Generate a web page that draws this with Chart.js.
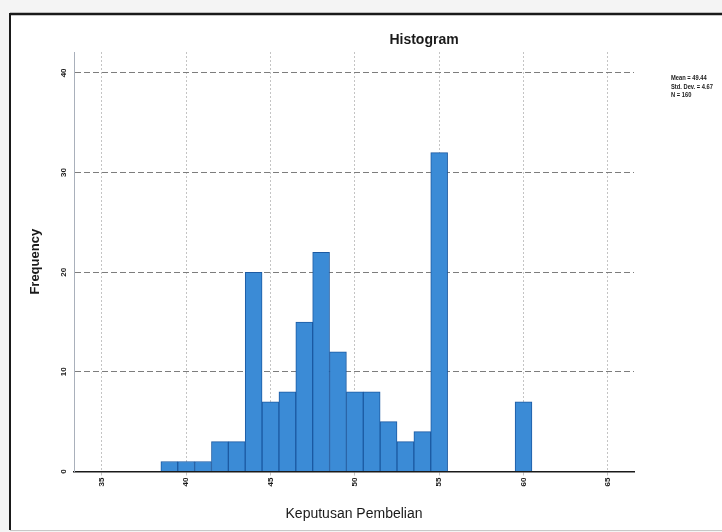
<!DOCTYPE html>
<html><head><meta charset="utf-8">
<script src="https://cdn.jsdelivr.net/npm/chart.js@4/dist/chart.umd.min.js"></script>
<style>html,body{margin:0;padding:0;background:#f4f4f4;overflow:hidden}#c{display:block}</style>
</head><body>
<canvas id="c" width="722" height="532"></canvas>
<script>
// ---- data ----
const binCenters  = [39,40,41,42,43,44,45,46,47,48,49,50,51,52,53,54,55,56,57,58,59,60];
const frequencies = [ 1, 1, 1, 3, 3,20, 7, 8,15,22,12, 8, 8, 5, 3, 4,32, 0, 0, 0, 0, 7];
const xTicks = [35,40,45,50,55,60,65];
const yTicks = [0,10,20,30,40];
const chartTitle = 'Histogram';
const xTitle = 'Keputusan Pembelian';
const yTitle = 'Frequency';
const statsLines = ['Mean = 49.44','Std. Dev. = 4.67','N = 160'];

const FONT = '"Liberation Sans", Arial, sans-serif';

const framePlugin = {
  id: 'frame',
  beforeDraw(chart) {
    const ctx = chart.ctx;
    ctx.save();
    ctx.fillStyle = '#f4f4f4';
    ctx.fillRect(0, 0, chart.width, chart.height);
    ctx.fillStyle = '#ffffff';
    ctx.fillRect(10, 14, chart.width - 10, 516);
    ctx.strokeStyle = '#1a1a1a';
    ctx.lineWidth = 2.5;
    ctx.beginPath(); ctx.moveTo(10, 14); ctx.lineTo(chart.width, 14); ctx.stroke();
    ctx.lineWidth = 2;
    ctx.beginPath(); ctx.moveTo(10, 13); ctx.lineTo(10, 530); ctx.stroke();
    ctx.strokeStyle = '#c8c8c8';
    ctx.lineWidth = 1;
    ctx.beginPath(); ctx.moveTo(10, 530.5); ctx.lineTo(chart.width, 530.5); ctx.stroke();
    ctx.restore();
  },
  afterDraw(chart) {
    const ctx = chart.ctx;
    ctx.save();
    ctx.fillStyle = '#1a1a1a';
    ctx.textAlign = 'center';
    ctx.textBaseline = 'middle';
    ctx.font = 'bold 14px ' + FONT;
    ctx.fillText(chartTitle, 424, 40);
    ctx.textAlign = 'left';
    ctx.font = 'bold 8px ' + FONT;
    statsLines.forEach((t, i) => {
      ctx.save();
      ctx.translate(671, 78 + i * 8.5);
      ctx.scale(0.72, 1);
      ctx.fillText(t, 0, 0);
      ctx.restore();
    });
    ctx.restore();
  }
};

new Chart(document.getElementById('c'), {
  type: 'bar',
  data: {
    datasets: [{
      data: binCenters.map((x, i) => ({x: x, y: frequencies[i]})),
      backgroundColor: '#3b8bd6',
      borderColor: '#1c5aa2',
      borderWidth: 1,
      barPercentage: 1,
      categoryPercentage: 1
    }]
  },
  options: {
    responsive: false,
    animation: false,
    devicePixelRatio: 1,
    layout: { padding: { left: 0, top: 52, right: 88, bottom: 0 } },
    plugins: { legend: { display: false }, tooltip: { enabled: false }, title: { display: false } },
    scales: {
      x: {
        type: 'linear',
        offset: false,
        min: 33.35,
        max: 66.55,
        afterBuildTicks: s => { s.ticks = xTicks.map(v => ({value: v})); },
        afterFit: s => { s.height = 60.5; },
        grid: { offset: false, color: '#c4c4c4', lineWidth: 1, tickLength: 4, drawTicks: true },
        border: { color: '#1a1a1a', width: 1.5, dash: [2, 2] },
        ticks: {
          minRotation: 90, maxRotation: 90, padding: 2,
          color: '#1a1a1a', font: { family: FONT, size: 8, weight: 'bold' }
        },
        title: {
          display: true, text: xTitle, color: '#1a1a1a',
          font: { family: FONT, size: 14 }, padding: { top: 0, bottom: 9 }
        }
      },
      y: {
        min: 0,
        max: 42.1,
        afterBuildTicks: s => { s.ticks = yTicks.map(v => ({value: v})); },
        afterFit: s => { s.width = 74; },
        grid: { color: '#7d7d7d', lineWidth: 1, drawTicks: false },
        border: { color: '#a9b0bb', width: 1, dash: [6, 3] },
        ticks: {
          minRotation: 90, maxRotation: 90, padding: 6, crossAlign: 'center',
          color: '#1a1a1a', font: { family: FONT, size: 8, weight: 'bold' }
        },
        title: {
          display: true, text: yTitle, color: '#1a1a1a',
          font: { family: FONT, size: 13, weight: 'bold' }, padding: { top: 28, bottom: 0 }
        }
      }
    }
  },
  plugins: [framePlugin]
});
</script>
</body></html>
